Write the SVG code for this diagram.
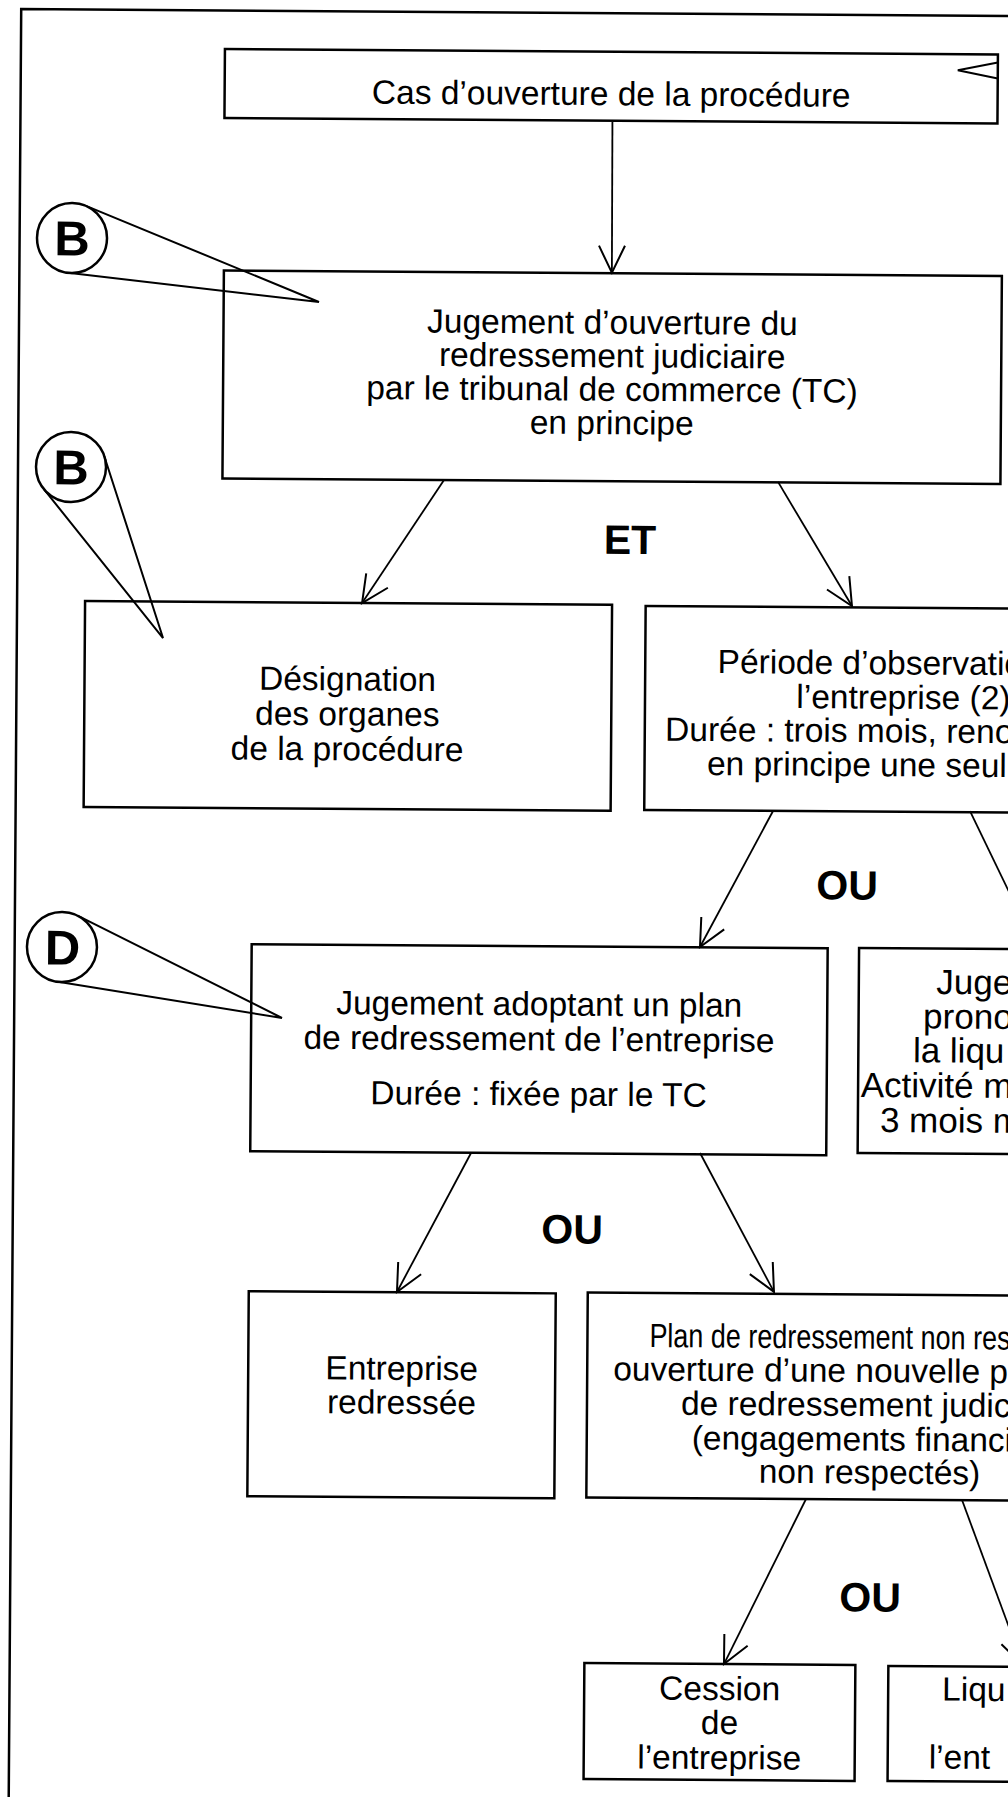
<svg xmlns="http://www.w3.org/2000/svg" width="1008" height="1797" viewBox="0 0 1008 1797">
<defs>
<marker id="arr" markerUnits="userSpaceOnUse" markerWidth="60" markerHeight="60" viewBox="-30 -30 60 60" refX="0" refY="0" orient="auto" overflow="visible">
<path d="M-27,-13 L0,0 L-27,13" fill="none" stroke="#000" stroke-width="2"/>
</marker>
</defs>
<style>
.box{fill:none;stroke:#000;stroke-width:2.5}
.t{font-family:"Liberation Sans",Arial,sans-serif;font-size:33.5px;fill:#000}
.c{text-anchor:middle}
.op{font-family:"Liberation Sans",Arial,sans-serif;font-weight:bold;font-size:41px;text-anchor:middle;fill:#000}
.conn{stroke:#000;stroke-width:1.8;fill:none;marker-end:url(#arr)}
.call{stroke:#000;stroke-width:2;fill:none;stroke-linejoin:miter}
.circ{fill:#fff;stroke:#000;stroke-width:2.5}
.lt{font-family:"Liberation Sans",Arial,sans-serif;font-weight:bold;font-size:49px;text-anchor:middle;fill:#000}
</style>
<rect x="0" y="0" width="1008" height="1797" fill="#fff"/>
<g transform="rotate(0.4 504 900)">
<path id="border" d="M15,1840 V12.5 H1040" fill="none" stroke="#000" stroke-width="2.5"/>

<g id="connectors">
<line class="conn" x1="607" y1="121" x2="607.5" y2="272"/>
<line class="conn" x1="441.1" y1="480.4" x2="360" y2="604"/>
<line class="conn" x1="775.1" y1="480" x2="849.9" y2="603.6"/>
<line class="conn" x1="772.4" y1="809.1" x2="700.3" y2="945.6"/>
<line class="conn" x1="969.4" y1="807.8" x2="1035.9" y2="943.3"/>
<line class="conn" x1="472.8" y1="1153.2" x2="399.7" y2="1292.7"/>
<line class="conn" x1="701.8" y1="1151.6" x2="776.7" y2="1290"/>
<line class="conn" x1="810.2" y1="1496.9" x2="729.3" y2="1662.5"/>
<line class="conn" x1="966.2" y1="1496.8" x2="1028.3" y2="1661.4"/>
<polyline class="call" points="992,59 952,67 992,75" stroke-width="2.5"/>
</g>

<g id="n1">
<rect class="box" x="219" y="51" width="773" height="69"/>
<text class="t c" x="605.6" y="104.5">Cas d’ouverture de la procédure</text>
</g>

<g id="n2">
<rect class="box" x="219.5" y="272.5" width="778" height="208"/>
<text class="t c" x="608.4" y="333">Jugement d’ouverture du</text>
<text class="t c" x="608.4" y="366.5">redressement judiciaire</text>
<text class="t c" x="608.4" y="400">par le tribunal de commerce (TC)</text>
<text class="t c" x="608.4" y="433.5">en principe</text>
</g>

<g id="callout-b1">
<polyline class="call" points="80.5,208.5 314.8,303.3 63.6,275.8"/>
<circle class="circ" cx="67.4" cy="241" r="35"/>
<text class="lt" x="67.4" y="258.5">B</text>
</g>

<g id="callout-b2">
<polyline class="call" points="101.2,459 161.2,640.4 40.8,492.1"/>
<circle class="circ" cx="68" cy="470" r="35"/>
<text class="lt" x="68" y="487.5">B</text>
</g>

<g id="callout-d">
<polyline class="call" points="77.7,918.7 282.8,1019.5 57,984.7"/>
<circle class="circ" cx="62.3" cy="950.1" r="35"/>
<text class="lt" x="63" y="967.6">D</text>
</g>

<g id="op-et"><text class="op" x="627.5" y="553">ET</text></g>
<g id="op-ou1"><text class="op" x="847" y="897">OU</text></g>
<g id="op-ou2"><text class="op" x="574.4" y="1243">OU</text></g>
<g id="op-ou3"><text class="op" x="875" y="1609">OU</text></g>

<g id="n3">
<rect class="box" x="83" y="604" width="527" height="206"/>
<text class="t c" x="346" y="691.5">Désignation</text>
<text class="t c" x="346" y="726.5">des organes</text>
<text class="t c" x="346" y="761.5">de la procédure</text>
</g>

<g id="n4">
<rect class="box" x="643.6" y="605" width="500" height="204"/>
<text class="t" x="716" y="671.6">Période d’observatio</text>
<text class="t" x="795" y="706">l’entreprise (2)</text>
<text class="t" x="664" y="739.6">Durée : trois mois, reno</text>
<text class="t" x="706" y="773.6">en principe une seul</text>
</g>

<g id="n5">
<rect class="box" x="252" y="946" width="576" height="207"/>
<text class="t c" x="540" y="1015.2">Jugement adoptant un plan</text>
<text class="t c" x="540" y="1050.2">de redressement de l’entreprise</text>
<text class="t c" x="540" y="1105.2">Durée : fixée par le TC</text>
</g>

<g id="n6">
<rect class="box" x="859.4" y="945.5" width="400" height="205"/>
<text class="t" x="937" y="990.9" style="font-size:35px">Juge</text>
<text class="t" x="924" y="1025.4" style="font-size:35px">prono</text>
<text class="t" x="914" y="1059.4" style="font-size:35px">la liqu</text>
<text class="t" x="862" y="1094.4" style="font-size:35px">Activité m</text>
<text class="t" x="881.5" y="1129.4" style="font-size:35px">3 mois m</text>
</g>

<g id="n7">
<rect class="box" x="251.5" y="1293" width="307" height="205"/>
<text class="t c" x="405" y="1380.5">Entreprise</text>
<text class="t c" x="405" y="1414.5">redressée</text>
</g>

<g id="n8">
<rect class="box" x="590.5" y="1292" width="500" height="205"/>
<text class="t" x="652.5" y="1346" textLength="361" lengthAdjust="spacingAndGlyphs">Plan de redressement non res</text>
<text class="t" x="616.5" y="1379.5">ouverture d’une nouvelle p</text>
<text class="t" x="684.5" y="1413.5">de redressement judic</text>
<text class="t" x="695.5" y="1448">(engagements financi</text>
<text class="t c" x="873.5" y="1481">non respectés)</text>
</g>

<g id="n9">
<rect class="box" x="589.7" y="1662.5" width="271" height="116"/>
<text class="t c" x="725.2" y="1698.5">Cession</text>
<text class="t c" x="725.2" y="1732.5">de</text>
<text class="t c" x="725.2" y="1767.5">l’entreprise</text>
</g>

<g id="n10">
<rect class="box" x="893.7" y="1663.3" width="300" height="115"/>
<text class="t" x="947.7" y="1697.5">Liqu</text>
<text class="t" x="934.7" y="1765.5">l’ent</text>
</g>
</g>
</svg>
